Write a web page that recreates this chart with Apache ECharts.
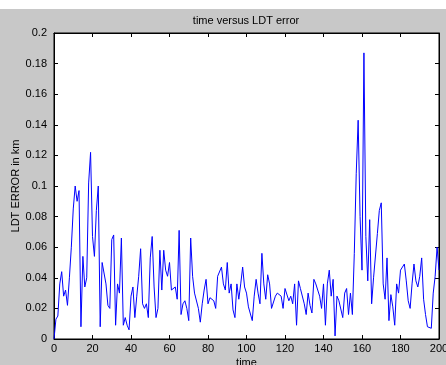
<!DOCTYPE html>
<html>
<head>
<meta charset="utf-8">
<script src="https://cdn.jsdelivr.net/npm/echarts@6/dist/echarts.min.js"></script>
<style>
html,body{margin:0;padding:0;background:#ffffff;}
#c{width:446px;height:365px;}
</style>
</head>
<body>
<div id="c"></div>
<script>
// Chart texts
const titleText = 'time versus LDT error';
const xName = 'time';
const yName = 'LDT ERROR in km';
// Axis ranges / ticks
const xMin = 0, xMax = 200, xStep = 20;
const yMin = 0, yMax = 0.2, yStep = 0.02;
// LDT error sampled at time = 0,1,2,...,200
const ldtError = [
0.000,0.013,0.015,0.036,0.044,0.028,0.032,0.022,0.040,0.060,
0.085,0.100,0.090,0.097,0.008,0.054,0.034,0.040,0.102,0.122,
0.067,0.054,0.084,0.100,0.008,0.050,0.050,0.036,0.022,0.020,
0.065,0.068,0.009,0.036,0.030,0.066,0.009,0.014,0.009,0.006,
0.028,0.034,0.014,0.028,0.041,0.059,0.023,0.020,0.023,0.014,
0.053,0.067,0.034,0.014,0.020,0.058,0.032,0.058,0.045,0.041,
0.050,0.032,0.033,0.034,0.026,0.071,0.016,0.023,0.025,0.020,
0.012,0.066,0.041,0.030,0.029,0.020,0.011,0.023,0.032,0.039,
0.023,0.027,0.026,0.025,0.020,0.041,0.040,0.047,0.036,0.032,
0.050,0.030,0.036,0.019,0.014,0.036,0.026,0.036,0.047,0.034,
0.030,0.021,0.020,0.012,0.028,0.039,0.030,0.023,0.056,0.036,
0.026,0.042,0.036,0.020,0.019,0.028,0.030,0.030,0.028,0.020,
0.033,0.034,0.025,0.028,0.023,0.036,0.009,0.038,0.033,0.034,
0.023,0.016,0.030,0.022,0.017,0.039,0.036,0.032,0.028,0.020,
0.036,0.009,0.036,0.045,0.028,0.039,0.002,0.028,0.025,0.026,
0.014,0.030,0.033,0.016,0.030,0.016,0.056,0.108,0.143,0.080,
0.045,0.187,0.067,0.038,0.078,0.023,0.040,0.041,0.069,0.084,
0.089,0.036,0.026,0.053,0.012,0.029,0.021,0.009,0.036,0.030,
0.045,0.045,0.049,0.038,0.025,0.020,0.036,0.049,0.038,0.034,
0.041,0.053,0.026,0.016,0.008,0.007,0.007,0.030,0.041,0.060,
0.045
];

const chart = echarts.init(document.getElementById('c'), null, {renderer:'canvas'});
const font = "'Liberation Sans', Arial, Helvetica, sans-serif";
const tickStyle = {show:true, inside:true, length:4, lineStyle:{color:'#000', width:1}};
const lineStyleAx = {show:true, onZero:false, lineStyle:{color:'#000', width:1}};
const points = ldtError.map((v, i) => [i, v]);

chart.setOption({
  animation:false,
  backgroundColor:'transparent',
  graphic:[
    {type:'rect', z:-100, shape:{x:0, y:9, width:446, height:356}, style:{fill:'#c8c8c8'}}
  ],
  title:{
    text:titleText, left:246, top:15, textAlign:'center', padding:0,
    textStyle:{fontFamily:font, fontSize:11, fontWeight:'normal', color:'#000'}
  },
  grid:{left:54, right:7, top:33, bottom:26, show:true, backgroundColor:'#ffffff', borderColor:'#000', borderWidth:1,
        containLabel:false, outerBoundsMode:'none'},
  xAxis:[
    {type:'value', min:xMin, max:xMax, interval:xStep, position:'bottom',
     name:xName, nameLocation:'middle', nameGap:18, nameMoveOverlap:false,
     nameTextStyle:{fontFamily:font, fontSize:11, color:'#000'},
     axisLine:lineStyleAx, axisTick:tickStyle, splitLine:{show:false},
     axisLabel:{fontFamily:font, fontSize:11, color:'#000', margin:4}},
    {type:'value', min:xMin, max:xMax, interval:xStep, position:'top',
     axisLine:lineStyleAx, axisTick:tickStyle, splitLine:{show:false},
     axisLabel:{show:false}}
  ],
  yAxis:[
    {type:'value', min:yMin, max:yMax, interval:yStep, position:'left',
     name:yName, nameLocation:'middle', nameGap:33, nameRotate:90, nameMoveOverlap:false,
     nameTextStyle:{fontFamily:font, fontSize:11, color:'#000'},
     axisLine:lineStyleAx, axisTick:tickStyle, splitLine:{show:false},
     axisLabel:{fontFamily:font, fontSize:11, color:'#000', margin:7}},
    {type:'value', min:yMin, max:yMax, interval:yStep, position:'right',
     axisLine:lineStyleAx, axisTick:tickStyle, splitLine:{show:false},
     axisLabel:{show:false}}
  ],
  series:[{
    type:'line', data:points, xAxisIndex:0, yAxisIndex:0,
    showSymbol:false, symbol:'none',
    lineStyle:{color:'#0000ff', width:1}, clip:true
  }]
});
</script>
</body>
</html>
